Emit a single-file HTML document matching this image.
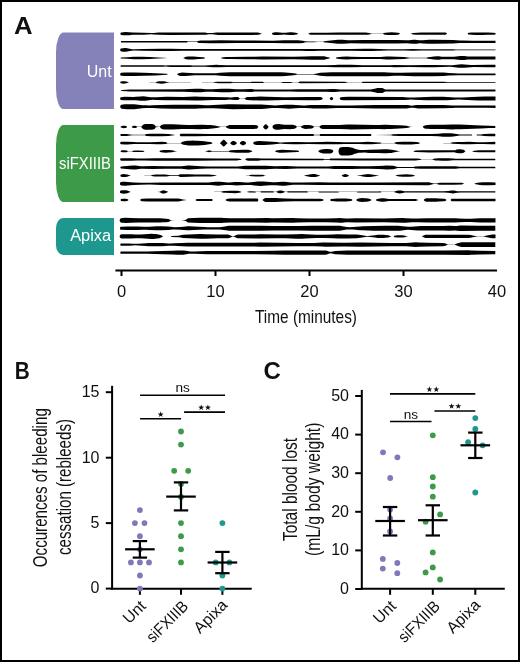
<!DOCTYPE html>
<html><head><meta charset="utf-8"><style>
html,body{margin:0;padding:0;background:#fff;}
svg{display:block;will-change:transform;}
text{font-family:"Liberation Sans",sans-serif;}
</style></head><body>
<svg width="520" height="662" viewBox="0 0 520 662">
<rect x="0" y="0" width="520" height="662" fill="#fff"/>

<rect x="1" y="1" width="518" height="660" fill="none" stroke="#000" stroke-width="2"/>
<text transform="translate(13.9,34) scale(1.073,1)" font-size="24" font-weight="bold" fill="#111">A</text>
<text transform="translate(14.65,378.6) scale(0.865,1)" font-size="24" font-weight="bold" fill="#111">B</text>
<text x="263.4" y="378.5" font-size="24" font-weight="bold" fill="#111">C</text>
<path d="M63.50,32.50 H114.00 V109.00 H63.50 A7.50,20.00 0 0 1 56.00,89.00 V52.50 A7.50,20.00 0 0 1 63.50,32.50Z" fill="#8581b9"/>
<path d="M63.50,125.00 H114.00 V202.00 H63.50 A7.50,20.00 0 0 1 56.00,182.00 V145.00 A7.50,20.00 0 0 1 63.50,125.00Z" fill="#3d9a48"/>
<path d="M63.00,218.00 H114.00 V255.00 H63.00 A7.00,10.00 0 0 1 56.00,245.00 V228.00 A7.00,10.00 0 0 1 63.00,218.00Z" fill="#1e988e"/>
<text x="111.6" y="77.3" font-size="16" fill="#fff" text-anchor="end">Unt</text>
<text x="111" y="169.2" font-size="16" fill="#fff" text-anchor="end" textLength="52" lengthAdjust="spacingAndGlyphs">siFXIIIB</text>
<text x="111.2" y="240.7" font-size="16" fill="#fff" text-anchor="end" textLength="41" lengthAdjust="spacingAndGlyphs">Apixa</text>
<path fill="#000" d="M120.38,33.70 120.46,33.22 120.70,32.82 121.07,32.55 121.28,32.47 123.50,32.16 125.50,32.05 129.00,32.21 132.75,32.59 143.50,32.71 151.50,33.05 153.50,32.99 158.75,32.61 170.00,32.46 205.50,32.60 206.00,32.65 207.50,33.00 208.00,33.05 212.50,33.03 216.50,32.54 217.75,32.45 252.25,32.47 258.25,32.62 258.75,32.73 260.25,33.24 262.25,33.65 262.25,33.75 260.25,34.16 258.75,34.67 258.25,34.78 252.25,34.93 217.75,34.95 216.50,34.86 212.50,34.37 208.00,34.35 207.50,34.40 206.00,34.75 205.50,34.80 170.00,34.94 158.75,34.79 153.50,34.41 151.50,34.35 143.50,34.69 132.75,34.81 129.00,35.19 125.50,35.35 123.50,35.24 121.28,34.93 121.07,34.85 120.70,34.58 120.46,34.18 120.38,33.70ZM272.00,33.48 272.25,33.09 272.75,32.81 274.00,32.45 275.00,32.32 277.25,32.35 282.00,32.72 284.25,32.80 285.75,32.75 290.00,32.37 291.75,32.30 293.75,32.42 296.00,32.78 296.75,32.95 297.75,33.52 298.25,33.64 298.25,33.76 297.75,33.88 296.75,34.45 296.00,34.62 293.75,34.98 291.75,35.10 290.25,35.05 286.00,34.67 284.25,34.60 282.00,34.68 277.25,35.05 275.00,35.08 274.00,34.95 272.75,34.59 272.25,34.31 272.00,33.92ZM308.25,33.65 309.50,32.95 310.25,32.78 311.00,32.70 326.50,32.70 337.75,32.60 365.75,32.60 367.25,32.70 369.25,32.95 371.00,33.48 371.75,33.60 383.00,33.60 383.25,33.51 383.75,33.08 384.00,32.95 385.25,32.74 388.25,32.42 391.75,32.30 395.00,32.41 398.00,32.70 398.50,32.85 400.25,33.66 400.25,33.74 398.50,34.55 398.00,34.70 395.00,34.99 391.75,35.10 388.25,34.98 385.25,34.66 384.00,34.45 383.75,34.32 383.25,33.89 383.00,33.80 371.75,33.80 371.00,33.92 369.25,34.45 367.25,34.70 365.75,34.80 337.75,34.80 326.50,34.70 311.00,34.70 310.25,34.62 309.50,34.45 308.25,33.75ZM411.00,33.63 412.50,33.05 413.00,32.95 417.25,32.69 421.50,32.60 445.50,32.60 446.00,32.79 447.00,33.57 447.00,33.83 446.00,34.61 445.50,34.80 421.50,34.80 417.25,34.71 413.00,34.45 412.50,34.35 411.00,33.77ZM467.75,33.49 468.25,32.93 468.50,32.80 471.75,32.61 475.50,32.49 481.75,32.45 487.75,32.54 493.25,32.71 495.50,32.95 495.50,34.45 493.25,34.69 487.75,34.86 481.75,34.95 475.50,34.91 471.75,34.79 468.50,34.60 468.25,34.47 467.75,33.91ZM120.83,41.80 120.88,41.51 121.02,41.27 121.24,41.11 121.50,41.05 183.00,41.10 186.75,41.05 187.00,41.11 187.75,41.54 188.00,41.60 196.75,41.60 197.00,41.53 197.75,41.00 198.00,40.90 199.25,40.72 200.75,40.59 209.75,40.38 220.00,40.30 237.25,40.54 273.00,40.65 284.25,40.31 298.25,40.30 300.25,40.40 303.00,40.70 304.75,41.17 305.50,41.30 308.25,41.39 313.50,41.41 317.75,41.70 323.00,41.70 323.50,41.59 324.50,41.20 326.00,40.99 335.50,40.04 338.00,39.87 340.25,39.80 342.50,39.85 348.00,40.22 350.50,40.30 363.00,40.05 397.25,40.05 407.00,40.30 409.00,40.22 413.50,39.87 415.50,39.80 416.75,39.88 419.50,40.25 420.75,40.30 423.00,40.22 429.00,39.83 433.50,39.81 453.00,40.05 460.00,40.49 463.00,40.57 472.50,40.65 495.50,40.65 495.50,42.95 472.50,42.95 463.00,43.03 460.00,43.11 453.00,43.55 433.50,43.79 429.00,43.77 423.00,43.38 420.75,43.30 419.50,43.35 416.75,43.72 415.50,43.80 413.50,43.73 409.00,43.38 407.00,43.30 397.25,43.55 363.00,43.55 350.50,43.30 348.00,43.38 342.50,43.75 340.25,43.80 338.00,43.73 335.50,43.56 326.00,42.61 324.50,42.40 323.50,42.01 323.00,41.90 317.75,41.90 313.50,42.19 308.25,42.21 305.50,42.30 304.75,42.43 303.00,42.90 300.25,43.20 298.25,43.30 284.25,43.29 273.00,42.95 237.25,43.06 220.00,43.30 209.75,43.22 200.75,43.01 199.25,42.88 198.00,42.70 197.75,42.60 197.00,42.07 196.75,42.00 188.00,42.00 187.75,42.06 187.00,42.49 186.75,42.55 183.00,42.50 121.50,42.55 121.24,42.49 121.02,42.33 120.88,42.09 120.83,41.80ZM120.15,49.90 120.25,49.33 120.38,49.07 120.55,48.84 120.98,48.51 123.00,48.13 124.75,48.00 125.75,48.03 127.25,48.18 129.75,48.86 132.00,49.16 133.50,49.25 143.00,49.00 160.50,48.80 170.50,48.86 182.75,49.05 300.50,49.10 307.25,48.91 313.00,48.90 319.75,49.10 350.50,49.10 365.50,48.80 371.50,48.87 387.75,49.22 394.75,49.28 404.00,49.29 413.00,49.00 421.50,49.25 453.00,49.25 456.00,49.45 495.50,49.45 495.50,50.35 456.00,50.35 453.00,50.55 421.50,50.55 413.00,50.80 404.00,50.51 394.75,50.52 387.75,50.58 371.50,50.93 365.50,51.00 350.50,50.70 319.75,50.70 313.00,50.90 307.25,50.89 300.50,50.70 182.75,50.75 170.50,50.94 160.50,51.00 143.00,50.80 133.50,50.55 132.00,50.64 129.75,50.94 127.25,51.62 125.75,51.77 124.75,51.80 123.00,51.67 120.98,51.29 120.75,51.15 120.38,50.73 120.25,50.47 120.15,49.90ZM120.66,58.00 120.70,57.77 120.82,57.58 120.99,57.45 121.20,57.40 127.20,57.31 133.95,56.84 136.70,56.75 142.20,56.81 149.70,57.02 158.20,57.47 163.70,57.63 167.20,57.95 167.20,58.05 163.70,58.37 158.20,58.53 149.70,58.98 142.20,59.19 136.70,59.25 133.95,59.16 127.20,58.69 121.20,58.60 120.99,58.55 120.82,58.42 120.70,58.23 120.66,58.00ZM178.45,57.96 178.95,57.90 183.20,57.88 183.70,57.73 185.45,56.92 185.95,56.76 188.20,56.50 190.45,56.40 193.45,56.51 198.95,56.98 203.20,57.26 204.45,57.46 205.20,57.92 205.20,58.08 204.45,58.54 203.20,58.74 198.95,59.02 193.45,59.49 190.45,59.60 188.20,59.50 185.95,59.24 185.45,59.08 183.70,58.27 183.20,58.12 178.95,58.10 178.45,58.04ZM220.95,57.89 221.95,57.41 223.45,57.16 225.95,57.03 229.95,56.93 246.45,56.84 262.45,56.50 293.20,56.74 304.45,56.50 311.70,56.26 322.95,56.25 324.20,56.37 326.70,56.90 329.20,57.59 330.20,57.96 330.20,58.04 329.20,58.41 326.70,59.10 324.20,59.63 322.95,59.75 311.70,59.74 304.45,59.50 293.20,59.26 262.45,59.50 246.45,59.16 229.95,59.07 225.95,58.97 223.45,58.84 221.95,58.59 220.95,58.11ZM335.70,57.95 336.45,57.38 336.70,57.26 337.45,57.16 341.70,56.77 346.70,56.61 350.95,56.64 361.70,56.99 377.95,57.00 380.45,56.92 386.45,56.53 390.45,56.52 396.45,56.69 404.20,57.07 407.95,57.39 409.70,57.72 410.45,57.80 425.45,57.80 426.20,57.72 427.95,57.26 430.45,56.90 433.70,56.55 437.70,56.25 438.95,56.30 441.70,56.67 442.95,56.75 453.95,56.73 455.95,56.59 460.70,56.10 462.95,56.00 464.45,56.07 467.70,56.38 473.20,56.59 485.70,56.58 495.45,56.50 495.45,59.50 485.70,59.42 473.20,59.41 467.70,59.62 464.45,59.93 462.95,60.00 460.70,59.90 455.95,59.41 453.95,59.27 442.95,59.25 441.70,59.33 438.95,59.70 437.70,59.75 433.70,59.45 430.45,59.10 427.95,58.74 426.20,58.28 425.45,58.20 410.45,58.20 409.70,58.28 407.95,58.61 404.20,58.93 396.45,59.31 390.45,59.48 386.45,59.47 380.45,59.08 377.95,59.00 361.70,59.01 350.95,59.36 346.70,59.39 341.70,59.23 337.45,58.84 336.70,58.74 336.45,58.62 335.70,58.05ZM120.53,66.10 120.58,65.81 120.72,65.57 120.94,65.41 121.20,65.35 162.95,65.35 165.45,65.60 167.95,65.35 171.20,65.29 178.95,65.21 189.95,65.20 192.95,65.50 201.95,65.50 204.95,65.42 212.95,64.95 216.45,64.85 218.95,64.89 226.70,65.20 296.20,65.30 326.20,65.30 335.20,64.91 337.95,64.85 351.70,64.86 362.95,65.20 390.20,65.20 394.20,64.95 409.70,65.20 425.20,64.95 433.95,65.04 449.95,65.35 452.45,65.24 458.70,64.52 461.70,64.35 464.45,64.44 470.95,64.97 473.70,65.10 487.95,64.86 495.45,64.85 495.45,67.35 487.95,67.34 473.70,67.10 470.95,67.23 464.45,67.76 461.70,67.85 458.70,67.68 452.45,66.96 449.95,66.85 433.95,67.16 425.20,67.25 409.70,67.00 394.20,67.25 390.20,67.00 362.95,67.00 351.70,67.34 337.95,67.35 335.20,67.29 326.20,66.90 296.20,66.90 226.70,67.00 218.95,67.31 216.45,67.35 212.95,67.25 204.95,66.78 201.95,66.70 192.95,66.70 189.95,67.00 178.95,66.99 171.20,66.91 167.95,66.85 165.45,66.60 162.95,66.85 121.20,66.85 120.94,66.79 120.72,66.63 120.58,66.39 120.53,66.10ZM120.15,74.30 120.18,74.01 120.38,73.47 120.75,73.05 121.24,72.83 125.00,72.62 128.00,72.55 134.00,72.61 144.00,72.82 155.75,73.21 166.25,73.75 167.00,73.87 167.75,74.25 167.75,74.35 167.00,74.73 166.25,74.85 155.75,75.39 144.00,75.78 134.00,75.99 128.00,76.05 125.00,75.98 121.24,75.77 120.75,75.55 120.38,75.13 120.18,74.59 120.15,74.30ZM177.25,74.21 178.00,73.55 178.75,73.19 179.50,72.91 180.75,72.70 182.50,72.56 185.50,72.64 194.75,73.29 214.25,73.30 216.00,73.23 220.00,72.84 225.00,72.50 230.25,72.30 281.25,72.33 285.50,72.54 291.25,72.98 295.50,73.55 297.25,74.01 298.00,74.10 313.25,74.09 316.00,73.72 319.00,73.03 320.25,72.82 326.25,72.43 331.50,72.30 384.50,72.30 387.50,72.39 394.00,72.74 396.75,72.80 401.00,72.75 414.00,72.41 432.75,72.45 443.50,72.56 448.75,73.04 459.00,73.38 495.50,73.40 495.50,75.20 459.00,75.22 448.75,75.56 443.50,76.04 432.75,76.15 414.00,76.19 401.00,75.85 396.75,75.80 394.00,75.86 387.50,76.21 384.50,76.30 331.50,76.30 326.25,76.17 320.25,75.78 319.00,75.57 316.00,74.88 313.25,74.51 298.00,74.50 297.25,74.59 295.50,75.05 291.25,75.62 285.50,76.06 281.25,76.27 230.25,76.30 225.00,76.10 220.00,75.76 216.00,75.37 214.25,75.30 194.75,75.31 185.50,75.96 182.50,76.04 180.75,75.90 179.50,75.69 178.75,75.41 178.00,75.05 177.25,74.39ZM120.30,82.40 120.45,81.84 120.86,81.48 122.20,81.24 123.45,81.15 124.70,81.22 126.20,81.44 127.95,81.98 128.70,82.34 128.70,82.46 127.95,82.82 126.20,83.36 124.70,83.58 123.45,83.65 122.20,83.56 120.86,83.32 120.45,82.96 120.30,82.40ZM149.45,82.35 155.45,82.25 155.95,82.13 156.95,81.66 157.45,81.57 159.70,81.26 161.70,81.15 163.70,81.31 165.20,81.53 167.20,81.97 169.70,82.24 190.70,82.34 190.70,82.46 169.70,82.56 167.20,82.83 165.20,83.27 163.70,83.49 161.70,83.65 159.70,83.54 157.45,83.23 156.95,83.14 155.95,82.67 155.45,82.55 149.45,82.45ZM201.95,82.22 213.20,82.20 214.45,82.09 216.95,81.71 218.20,81.65 230.45,81.65 232.95,82.00 250.45,82.00 251.70,81.85 262.95,81.85 263.20,81.89 263.95,82.20 264.20,82.20 280.95,82.20 282.95,81.90 290.45,81.90 292.95,82.20 297.95,82.20 298.70,82.07 299.95,81.59 300.70,81.50 343.45,81.79 344.95,81.84 346.95,82.13 347.95,82.20 361.70,82.20 361.95,82.17 362.70,81.86 363.20,81.80 432.45,81.83 443.20,81.85 447.95,82.00 495.45,82.00 495.45,82.80 447.95,82.80 443.20,82.95 432.45,82.97 363.20,83.00 362.70,82.94 361.95,82.63 361.70,82.60 347.95,82.60 346.95,82.67 344.95,82.96 343.45,83.01 300.70,83.30 299.95,83.21 298.70,82.73 297.95,82.60 292.95,82.60 290.45,82.90 282.95,82.90 280.95,82.60 264.20,82.60 263.95,82.60 263.20,82.91 262.95,82.95 251.70,82.95 250.45,82.80 232.95,82.80 230.45,83.15 218.20,83.15 216.95,83.09 214.45,82.71 213.20,82.60 201.95,82.58ZM120.84,90.50 120.90,90.28 121.06,90.13 121.95,90.00 126.20,89.67 129.95,89.51 144.45,89.39 183.45,89.25 195.20,88.82 198.95,88.75 200.95,88.80 205.70,89.16 207.95,89.25 212.20,89.19 221.70,88.84 225.95,88.75 229.20,88.80 235.95,89.16 238.70,89.25 243.95,89.20 250.70,89.00 251.95,89.10 254.45,89.44 255.45,89.50 290.70,89.50 297.70,89.25 325.95,89.25 331.70,89.00 334.70,89.07 340.70,89.40 343.45,89.49 369.45,89.50 370.70,89.41 371.95,89.22 375.70,88.46 377.20,88.09 377.95,88.00 381.70,88.00 382.20,88.06 382.95,88.36 384.70,89.32 385.45,89.50 495.45,89.50 495.45,91.50 385.45,91.50 384.70,91.68 382.95,92.64 382.20,92.94 381.70,93.00 377.95,93.00 377.20,92.91 375.70,92.54 371.95,91.78 370.70,91.59 369.45,91.50 343.45,91.51 340.70,91.60 334.70,91.93 331.70,92.00 325.95,91.75 297.70,91.75 290.70,91.50 255.45,91.50 254.45,91.56 251.95,91.90 250.70,92.00 243.95,91.80 238.70,91.75 235.95,91.84 229.20,92.20 225.95,92.25 221.70,92.16 212.20,91.81 207.95,91.75 205.70,91.84 200.95,92.20 198.95,92.25 195.20,92.18 183.45,91.75 144.45,91.61 129.95,91.49 126.20,91.33 121.95,91.00 121.06,90.87 120.90,90.72 120.84,90.50ZM120.15,98.60 120.18,98.31 120.38,97.77 120.75,97.35 120.98,97.21 121.24,97.13 123.00,96.92 124.50,96.85 133.75,96.94 135.75,96.84 140.75,96.43 143.00,96.35 145.25,96.48 150.50,97.19 152.75,97.35 156.50,97.28 166.50,96.86 183.75,97.00 195.25,96.60 200.25,96.66 213.25,97.08 225.50,97.31 227.25,97.37 230.25,97.60 231.50,97.55 235.00,97.11 238.00,97.10 238.25,97.19 239.25,98.10 240.00,98.41 240.50,98.50 244.25,98.50 244.50,98.45 246.50,97.24 247.00,97.10 250.50,97.05 259.50,96.61 266.25,96.68 284.75,97.20 309.00,97.01 316.75,97.02 320.50,97.10 321.00,97.18 322.00,97.60 322.75,98.47 322.75,98.73 322.00,99.60 321.00,100.02 320.50,100.10 316.75,100.18 309.00,100.19 284.75,100.00 266.25,100.52 259.50,100.59 250.50,100.15 247.00,100.10 246.50,99.96 244.50,98.75 244.25,98.70 240.50,98.70 240.00,98.79 239.25,99.10 238.25,100.01 238.00,100.10 235.00,100.09 231.50,99.65 230.25,99.60 227.25,99.83 225.50,99.89 213.25,100.12 200.25,100.54 195.25,100.60 183.75,100.20 166.50,100.34 156.50,99.92 152.75,99.85 150.50,100.01 145.25,100.72 143.00,100.85 140.75,100.77 135.75,100.36 133.75,100.26 124.50,100.35 123.00,100.28 121.24,100.07 120.98,99.99 120.75,99.85 120.38,99.43 120.18,98.89 120.15,98.60ZM329.75,98.52 330.25,97.75 330.50,97.52 331.00,97.09 331.25,96.95 331.50,96.90 331.75,96.95 332.00,97.09 332.50,97.52 332.75,97.75 333.25,98.52 333.25,98.68 332.75,99.45 332.50,99.68 332.00,100.11 331.75,100.25 331.50,100.30 331.25,100.25 331.00,100.11 330.50,99.68 330.25,99.45 329.75,98.68ZM339.75,98.42 340.25,97.59 340.50,97.35 341.25,97.18 343.00,97.00 348.25,96.86 403.00,97.10 404.75,97.18 408.75,97.53 410.50,97.60 413.75,97.52 420.75,97.13 425.75,97.00 434.00,96.86 443.25,96.85 446.75,96.97 454.75,97.51 458.25,97.60 462.75,97.47 472.50,96.91 477.75,96.75 485.00,96.61 495.50,96.60 495.50,100.60 485.00,100.59 477.75,100.45 472.50,100.29 462.75,99.73 458.25,99.60 454.75,99.69 446.75,100.23 443.25,100.35 434.00,100.34 425.75,100.20 420.75,100.07 413.75,99.68 410.50,99.60 408.75,99.67 404.75,100.02 403.00,100.10 348.25,100.34 343.00,100.20 341.25,100.02 340.50,99.85 340.25,99.61 339.75,98.78ZM120.20,106.70 120.34,105.93 120.50,105.59 121.00,105.04 121.31,104.85 121.65,104.74 124.50,104.35 126.75,104.20 134.25,104.24 136.25,104.41 142.25,105.15 146.25,105.37 149.00,105.45 152.75,105.37 161.25,104.96 173.25,104.70 195.75,104.70 198.50,104.79 205.50,105.15 209.25,105.19 213.25,105.06 228.50,104.31 233.00,104.20 246.50,104.44 261.75,104.47 264.75,104.65 272.00,105.31 275.25,105.45 278.25,105.37 285.75,104.82 289.25,104.70 292.25,104.79 299.50,105.33 302.75,105.45 305.00,105.40 310.50,105.03 312.75,104.95 326.25,104.96 336.75,105.44 350.50,105.45 375.75,104.96 406.75,104.95 407.75,105.03 410.50,105.58 411.75,105.70 413.00,105.62 416.50,105.06 418.00,104.95 443.50,105.11 452.25,105.52 455.00,105.60 486.75,105.60 495.50,105.45 495.50,107.95 486.75,107.80 455.00,107.80 452.25,107.88 443.50,108.29 418.00,108.45 416.75,108.37 413.25,107.81 411.75,107.70 410.75,107.78 408.00,108.33 406.75,108.45 375.75,108.44 350.50,107.95 336.75,107.96 326.25,108.44 312.75,108.45 310.50,108.37 305.00,108.00 302.75,107.95 299.50,108.07 292.25,108.61 289.25,108.70 285.75,108.58 278.25,108.03 275.25,107.95 272.00,108.09 264.75,108.75 261.75,108.93 246.50,108.96 233.00,109.20 228.50,109.09 213.25,108.34 209.25,108.21 205.50,108.25 198.50,108.61 195.75,108.70 173.25,108.70 161.25,108.44 152.75,108.03 149.00,107.95 146.25,108.03 142.25,108.25 136.25,108.99 134.25,109.16 126.75,109.20 124.50,109.05 121.65,108.66 121.31,108.55 121.00,108.36 120.50,107.81 120.34,107.47 120.20,106.70ZM120.62,126.90 120.74,126.48 121.04,126.21 122.55,125.77 123.55,125.65 124.80,125.71 126.05,125.92 126.30,126.11 126.80,126.67 127.05,126.82 127.05,126.98 126.80,127.13 126.30,127.69 126.05,127.88 124.80,128.09 123.55,128.15 122.55,128.03 121.04,127.59 120.74,127.32 120.62,126.90ZM131.80,126.61 132.05,126.38 133.05,126.01 133.80,125.85 134.55,125.80 135.30,125.87 136.30,126.13 137.05,126.43 137.30,126.68 137.55,126.80 141.05,126.80 141.30,126.66 141.55,126.42 142.30,125.51 143.05,124.81 143.55,124.53 144.30,124.26 145.30,124.09 146.30,124.00 151.05,124.00 151.80,124.05 153.05,124.26 154.05,124.61 154.55,124.91 154.80,125.16 155.30,125.80 155.55,126.24 155.80,126.50 158.55,126.69 159.80,126.70 160.05,126.56 161.05,125.35 161.55,124.94 162.05,124.69 162.80,124.48 165.05,124.26 170.55,124.25 172.80,124.30 182.05,124.72 188.05,124.88 191.55,124.88 200.05,124.65 203.30,124.70 207.55,124.88 210.30,125.08 214.55,125.60 218.05,126.17 220.55,126.70 225.55,126.70 226.05,126.51 226.80,126.00 228.30,125.39 229.30,125.07 230.30,124.91 253.55,124.92 256.80,125.16 257.05,125.30 257.30,125.55 258.05,126.54 258.30,126.78 258.30,127.02 258.05,127.26 257.30,128.25 257.05,128.50 256.80,128.64 253.55,128.88 230.30,128.89 229.30,128.73 228.30,128.41 226.80,127.80 226.05,127.29 225.55,127.10 220.55,127.10 218.05,127.63 214.55,128.20 210.30,128.72 207.55,128.92 203.30,129.10 200.05,129.15 191.55,128.92 188.05,128.92 182.05,129.08 172.80,129.50 170.55,129.55 165.05,129.54 162.80,129.32 162.05,129.11 161.55,128.86 161.05,128.45 160.05,127.24 159.80,127.10 158.55,127.11 155.80,127.30 155.55,127.56 155.30,128.00 154.80,128.64 154.55,128.89 154.05,129.19 153.05,129.54 151.80,129.75 151.05,129.80 146.30,129.80 145.30,129.71 144.30,129.54 143.55,129.27 143.05,128.99 142.30,128.29 141.55,127.38 141.30,127.14 141.05,127.00 137.55,127.00 137.30,127.12 137.05,127.37 136.30,127.67 135.30,127.93 134.55,128.00 133.80,127.95 133.05,127.79 132.05,127.42 131.80,127.19ZM263.05,126.84 264.05,125.40 265.05,124.50 265.55,124.24 265.80,124.20 266.05,124.24 266.55,124.50 267.55,125.40 268.55,126.84 268.55,126.96 267.55,128.40 266.55,129.30 266.05,129.56 265.80,129.60 265.55,129.56 265.05,129.30 264.05,128.40 263.05,126.96ZM272.55,126.50 272.80,125.82 273.30,125.25 273.80,124.90 275.05,124.35 275.55,124.21 276.05,124.15 279.05,124.10 280.30,124.19 284.55,124.73 290.55,124.65 291.55,124.69 292.80,124.83 294.55,125.16 295.30,125.44 296.05,125.87 296.80,126.71 297.05,126.80 300.55,126.80 301.05,126.58 301.80,126.00 302.80,125.57 304.30,125.06 305.30,124.91 308.80,125.02 312.05,125.41 313.05,125.93 313.80,126.52 314.05,126.66 314.30,126.70 319.05,126.70 319.30,126.70 319.55,126.57 320.30,125.79 320.55,125.63 321.80,125.11 322.80,124.91 339.05,124.89 347.55,124.47 350.55,124.40 376.05,124.89 379.30,124.88 384.55,124.66 386.80,124.68 390.55,124.90 399.55,125.21 403.55,125.44 406.55,125.85 409.30,126.41 410.30,126.77 411.55,126.87 411.55,126.93 410.30,127.03 409.30,127.39 406.55,127.95 403.55,128.36 399.55,128.59 390.55,128.90 386.80,129.12 384.55,129.14 379.30,128.92 376.05,128.91 350.55,129.40 347.55,129.33 339.05,128.91 322.80,128.89 321.80,128.69 320.55,128.17 320.30,128.01 319.55,127.23 319.30,127.10 319.05,127.10 314.30,127.10 314.05,127.14 313.80,127.28 313.05,127.87 312.05,128.39 308.80,128.78 305.30,128.89 304.30,128.74 302.80,128.23 301.80,127.80 301.05,127.22 300.55,127.00 297.05,127.00 296.80,127.09 296.05,127.93 295.30,128.36 294.55,128.64 292.80,128.97 291.55,129.11 290.55,129.15 284.55,129.07 280.30,129.61 279.05,129.70 276.05,129.65 275.55,129.59 275.05,129.45 273.80,128.90 273.30,128.55 272.80,127.98 272.55,127.30ZM422.80,126.73 423.55,125.97 424.05,125.63 425.80,125.16 427.30,124.94 431.05,124.85 443.30,124.74 452.30,124.40 455.55,124.43 459.55,124.54 481.05,125.42 489.55,125.83 495.30,125.90 495.30,127.90 489.55,127.97 481.05,128.38 459.55,129.26 455.55,129.37 452.30,129.40 443.30,129.06 431.05,128.95 427.30,128.86 425.80,128.64 424.05,128.17 423.55,127.83 422.80,127.07ZM120.40,135.00 120.47,134.62 120.66,134.29 120.96,134.08 121.30,134.00 125.55,134.00 126.80,134.05 130.05,134.41 132.80,134.80 144.30,134.80 144.80,134.71 146.30,134.09 146.80,134.00 150.80,133.82 155.30,133.75 161.80,133.82 168.55,134.03 172.05,134.38 175.55,134.91 175.55,135.09 172.05,135.62 168.55,135.97 161.80,136.18 155.30,136.25 150.80,136.18 146.80,136.00 146.30,135.91 144.80,135.29 144.30,135.20 132.80,135.20 130.05,135.59 126.80,135.95 125.55,136.00 121.30,136.00 120.96,135.92 120.66,135.71 120.47,135.38 120.40,135.00ZM179.80,134.73 180.30,133.88 180.55,133.75 195.55,133.80 209.55,133.95 312.80,133.90 313.05,133.90 313.30,134.03 314.05,134.74 314.30,134.80 319.30,134.80 319.55,134.69 320.30,134.06 320.55,134.00 323.05,133.94 370.30,133.90 370.55,133.91 370.80,134.06 371.55,134.92 371.55,135.08 370.80,135.94 370.55,136.09 370.30,136.10 323.05,136.06 320.55,136.00 320.30,135.94 319.55,135.31 319.30,135.20 314.30,135.20 314.05,135.26 313.30,135.97 313.05,136.10 312.80,136.10 209.55,136.05 195.55,136.20 180.55,136.25 180.30,136.12 179.80,135.27ZM374.55,134.97 390.55,134.80 391.05,134.73 392.80,134.27 399.30,134.03 431.05,133.96 438.30,133.64 440.55,133.50 443.05,133.25 450.30,133.29 453.30,133.58 460.05,134.58 471.80,134.61 472.30,134.93 472.30,135.07 471.80,135.39 460.05,135.42 453.30,136.42 450.30,136.71 443.05,136.75 440.55,136.50 438.30,136.36 431.05,136.04 399.30,135.97 392.80,135.73 391.05,135.27 390.55,135.20 374.55,135.03ZM476.30,134.92 476.80,134.66 477.05,134.59 480.55,134.40 484.05,134.01 489.80,133.82 495.30,133.75 495.30,136.25 489.80,136.18 484.05,135.99 480.55,135.60 477.05,135.41 476.80,135.34 476.30,135.08ZM120.17,143.10 120.26,142.62 120.50,142.22 120.87,141.95 121.08,141.87 125.05,141.70 127.55,141.76 133.80,142.12 136.55,142.20 149.80,142.20 157.55,141.88 161.30,141.87 165.55,142.11 166.05,142.26 167.55,142.91 168.05,143.00 180.55,143.00 181.05,142.79 181.80,142.23 182.55,141.78 182.80,141.66 183.55,141.49 185.80,141.11 188.30,140.82 190.55,140.66 193.05,140.60 195.30,140.65 197.80,140.80 204.55,141.32 207.55,141.63 210.55,142.11 211.05,142.29 212.55,143.03 212.55,143.17 211.05,143.91 210.55,144.09 207.55,144.57 204.55,144.88 197.80,145.40 195.30,145.55 193.05,145.60 190.55,145.54 188.30,145.38 185.80,145.09 183.55,144.71 182.80,144.54 182.55,144.42 181.80,143.97 181.05,143.41 180.55,143.20 168.05,143.20 167.55,143.29 166.05,143.94 165.55,144.09 161.30,144.33 157.55,144.32 149.80,144.00 136.55,144.00 133.80,144.08 127.55,144.44 125.05,144.50 121.08,144.33 120.87,144.25 120.50,143.98 120.26,143.58 120.17,143.10ZM220.05,142.96 220.55,142.56 223.05,140.06 223.55,139.75 223.80,139.70 224.05,139.75 224.55,140.09 226.80,142.42 227.55,143.01 227.55,143.19 226.80,143.78 224.55,146.11 224.05,146.45 223.80,146.50 223.55,146.45 223.05,146.14 220.55,143.64 220.05,143.24ZM230.30,142.99 230.80,142.22 231.05,141.97 231.55,141.63 232.55,141.10 233.05,140.95 233.55,140.90 234.05,140.97 234.55,141.14 235.55,141.69 236.05,142.04 236.80,143.07 236.80,143.13 236.05,144.16 235.55,144.51 234.55,145.06 234.05,145.23 233.55,145.30 233.05,145.25 232.55,145.10 231.55,144.57 231.05,144.23 230.80,143.98 230.30,143.21ZM239.80,142.99 240.30,142.22 240.55,141.97 241.05,141.63 242.05,141.10 242.55,140.95 243.05,140.90 243.55,140.97 244.05,141.13 245.05,141.68 245.55,142.04 246.05,142.88 246.05,143.32 245.55,144.16 245.05,144.52 244.05,145.07 243.55,145.23 243.05,145.30 242.55,145.25 242.05,145.10 241.05,144.57 240.55,144.23 240.30,143.98 239.80,143.21ZM253.30,142.85 253.80,142.02 254.05,141.83 254.30,141.76 255.55,141.45 256.80,141.25 259.30,141.10 264.05,141.23 272.30,141.72 276.80,142.11 279.30,142.51 280.30,142.60 281.80,142.54 285.30,142.21 293.80,142.01 297.55,142.01 308.30,142.20 321.55,141.89 326.55,141.85 338.05,142.00 343.80,142.20 356.80,142.20 359.30,142.14 364.80,141.88 367.05,141.85 371.55,141.98 379.05,142.41 380.05,142.51 381.30,142.84 381.80,142.90 394.05,142.90 394.55,142.83 395.55,142.34 397.55,142.03 402.55,141.78 407.05,141.70 411.55,141.81 416.55,142.12 417.80,142.29 419.05,142.55 419.30,142.62 419.80,143.02 419.80,143.18 419.30,143.58 419.05,143.65 417.80,143.91 416.55,144.08 411.55,144.39 407.05,144.50 402.55,144.42 397.55,144.17 395.55,143.86 394.55,143.37 394.05,143.30 381.80,143.30 381.30,143.36 380.05,143.69 379.05,143.79 371.55,144.22 367.05,144.35 364.80,144.32 359.30,144.06 356.80,144.00 343.80,144.00 338.05,144.20 326.55,144.35 321.55,144.31 308.30,144.00 297.55,144.19 293.80,144.19 285.30,143.99 281.80,143.66 280.30,143.60 279.30,143.69 276.80,144.09 272.30,144.48 264.05,144.97 259.30,145.10 256.80,144.95 255.55,144.75 254.30,144.44 254.05,144.37 253.80,144.18 253.30,143.35ZM443.30,143.04 449.30,142.99 450.05,142.90 452.80,142.37 458.05,142.08 463.05,141.91 469.30,141.86 477.55,142.15 480.55,142.20 483.55,142.15 490.80,141.88 495.30,141.85 495.30,144.35 490.80,144.32 483.55,144.05 480.55,144.00 477.55,144.05 469.30,144.34 463.05,144.29 458.05,144.12 452.80,143.83 450.05,143.30 449.30,143.21 443.30,143.16ZM120.62,151.30 120.74,150.88 121.04,150.61 122.55,150.36 123.55,150.30 126.80,150.41 127.05,150.53 127.80,151.15 128.05,151.20 131.80,151.20 132.05,151.13 132.80,150.74 133.05,150.70 135.30,150.59 138.05,150.55 143.05,150.70 143.55,150.83 144.55,151.23 144.55,151.37 143.55,151.77 143.05,151.90 138.05,152.05 135.30,152.01 133.05,151.90 132.80,151.86 132.05,151.47 131.80,151.40 128.05,151.40 127.80,151.45 127.05,152.07 126.80,152.19 123.55,152.30 122.55,152.24 121.04,151.99 120.74,151.72 120.62,151.30ZM159.30,151.23 160.30,150.62 161.05,150.43 163.30,150.04 165.55,149.90 168.55,150.00 172.05,150.31 174.05,150.85 175.30,151.11 177.30,151.26 177.30,151.34 175.30,151.49 174.05,151.75 172.05,152.29 168.55,152.60 165.55,152.70 163.30,152.56 161.05,152.17 160.30,151.98 159.30,151.37ZM204.55,151.25 206.30,151.05 208.30,150.52 209.30,150.40 210.05,150.48 212.05,150.99 212.80,151.09 228.05,151.10 228.55,151.01 230.05,150.39 230.55,150.30 236.55,149.92 242.80,149.80 248.55,149.84 249.30,150.00 251.05,150.57 252.55,151.23 252.55,151.37 251.05,152.03 249.30,152.60 248.55,152.76 242.80,152.80 236.55,152.68 230.55,152.30 230.05,152.21 228.55,151.59 228.05,151.50 212.80,151.51 212.05,151.61 210.05,152.12 209.30,152.20 208.30,152.08 206.30,151.55 204.55,151.35ZM275.30,151.15 275.80,150.66 276.05,150.54 277.30,150.25 279.55,149.91 282.05,149.80 297.55,150.51 298.05,150.56 298.30,150.65 299.30,151.27 299.30,151.33 298.30,151.95 298.05,152.04 297.55,152.09 282.05,152.80 279.55,152.69 277.30,152.35 276.05,152.06 275.80,151.94 275.30,151.45ZM318.30,151.18 319.05,150.52 319.80,150.10 320.55,149.78 321.55,149.48 323.05,149.20 326.30,149.00 328.05,149.03 330.05,149.15 331.30,149.40 332.30,149.80 332.55,150.02 333.30,151.12 333.30,151.48 332.55,152.58 332.30,152.80 331.30,153.20 330.05,153.45 328.05,153.57 326.30,153.60 323.05,153.40 321.55,153.12 320.55,152.82 319.80,152.50 319.05,152.08 318.30,151.42ZM338.55,150.84 338.80,149.55 339.30,148.43 339.55,148.10 340.30,147.53 340.80,147.30 341.55,147.16 343.05,147.02 344.55,147.00 348.30,147.12 350.80,147.45 352.55,147.85 354.80,148.73 357.05,149.44 358.55,149.74 360.30,149.97 364.55,149.99 369.30,149.70 378.30,149.54 384.30,149.31 386.80,149.32 389.55,149.48 391.55,149.67 393.30,149.98 398.30,151.06 400.05,151.26 400.05,151.34 398.30,151.54 393.30,152.62 391.55,152.93 389.55,153.12 386.80,153.28 384.30,153.29 378.30,153.06 369.30,152.90 364.55,152.61 360.30,152.63 358.55,152.86 357.05,153.16 354.80,153.87 352.55,154.75 350.80,155.15 348.30,155.48 344.55,155.60 343.05,155.58 341.55,155.44 340.80,155.30 340.30,155.07 339.55,154.50 339.30,154.17 338.80,153.05 338.55,151.76ZM413.55,151.21 414.80,150.72 415.55,150.55 422.55,150.26 429.55,150.20 454.30,150.30 455.05,150.17 456.80,149.58 458.80,149.37 460.55,149.30 461.80,149.41 463.55,149.82 464.05,150.12 465.05,151.00 465.30,151.14 465.80,151.25 465.80,151.35 465.30,151.46 465.05,151.60 464.05,152.48 463.55,152.78 461.80,153.19 460.55,153.30 458.80,153.23 456.80,153.02 455.05,152.43 454.30,152.30 429.55,152.40 422.55,152.34 415.55,152.05 414.80,151.88 413.55,151.39ZM472.30,151.23 473.05,150.89 474.30,150.67 478.80,150.34 495.30,150.30 495.30,152.30 478.80,152.26 474.30,151.93 473.05,151.71 472.30,151.37ZM120.17,159.40 120.26,158.92 120.50,158.52 120.87,158.25 121.30,158.15 131.05,158.16 136.80,158.40 144.55,158.39 155.05,158.15 195.30,158.15 217.30,158.39 236.80,158.40 238.05,158.48 239.80,158.76 240.55,158.91 241.55,159.31 241.55,159.49 240.55,159.89 239.80,160.04 238.05,160.32 236.80,160.40 217.30,160.41 195.30,160.65 155.05,160.65 144.55,160.41 136.80,160.40 131.05,160.64 121.30,160.65 120.87,160.55 120.50,160.28 120.26,159.88 120.17,159.40ZM245.30,159.31 246.30,158.49 247.30,158.22 248.05,158.15 258.05,158.15 261.05,158.50 322.30,158.64 323.05,158.65 324.05,158.98 324.30,159.00 329.30,159.00 329.55,158.93 330.30,158.54 330.55,158.50 358.05,158.41 415.55,158.40 417.30,158.48 419.30,158.71 420.55,158.91 421.30,159.20 421.80,159.30 431.80,159.30 432.80,159.14 434.55,158.58 435.30,158.42 438.55,158.24 442.05,158.15 447.80,158.17 453.30,158.57 455.30,158.65 495.30,158.65 495.30,160.15 455.30,160.15 453.30,160.23 447.80,160.63 442.05,160.65 438.55,160.56 435.30,160.38 434.55,160.22 432.80,159.66 431.80,159.50 421.80,159.50 421.30,159.60 420.55,159.89 419.30,160.09 417.30,160.32 415.55,160.40 358.05,160.39 330.55,160.30 330.30,160.26 329.55,159.87 329.30,159.80 324.30,159.80 324.05,159.82 323.05,160.15 322.30,160.16 261.05,160.30 258.05,160.65 248.05,160.65 247.30,160.58 246.30,160.31 245.30,159.49ZM120.40,167.50 120.47,167.12 120.66,166.79 121.12,166.52 129.55,165.67 133.05,165.50 135.55,165.62 140.80,166.16 143.05,166.25 152.80,166.00 165.05,166.25 181.30,166.13 183.80,166.06 187.80,165.58 189.55,165.50 200.80,166.22 208.30,166.43 214.05,166.50 236.05,166.49 238.05,166.40 245.30,165.85 248.05,165.75 266.05,165.75 275.05,166.25 285.80,166.00 297.80,166.40 309.55,166.49 325.80,166.50 328.30,166.44 334.55,166.09 337.55,166.00 351.30,166.00 361.55,166.24 368.80,166.20 378.30,165.99 383.80,165.64 386.05,165.60 393.30,165.77 394.30,165.96 396.80,166.73 397.80,166.89 404.80,167.01 413.05,167.05 413.55,166.99 415.05,166.56 415.55,166.50 420.80,166.32 426.80,166.25 453.30,166.25 455.30,166.34 459.80,166.69 461.55,166.75 495.30,166.75 495.30,168.25 461.55,168.25 459.80,168.31 455.30,168.66 453.30,168.75 426.80,168.75 420.80,168.68 415.55,168.50 415.05,168.44 413.55,168.01 413.05,167.95 404.80,167.99 397.80,168.11 396.80,168.27 394.30,169.04 393.30,169.23 386.05,169.40 383.80,169.36 378.30,169.01 368.80,168.80 361.55,168.76 351.30,169.00 337.55,169.00 334.55,168.91 328.30,168.56 325.80,168.50 309.55,168.51 297.80,168.60 285.80,169.00 275.05,168.75 266.05,169.25 248.05,169.25 245.30,169.15 238.05,168.60 236.05,168.51 214.05,168.50 208.30,168.57 200.80,168.78 189.55,169.50 187.80,169.42 183.80,168.94 181.30,168.87 165.05,168.75 152.80,169.00 143.05,168.75 140.80,168.84 135.55,169.38 133.05,169.50 129.55,169.33 121.12,168.48 120.66,168.21 120.47,167.88 120.40,167.50ZM120.38,175.60 120.40,175.36 120.56,174.91 120.70,174.72 121.07,174.45 122.50,174.18 123.50,174.10 125.25,174.17 127.25,174.40 129.00,175.12 130.50,175.55 130.50,175.65 129.00,176.08 127.25,176.80 125.25,177.03 123.50,177.10 122.50,177.02 121.07,176.75 120.70,176.48 120.56,176.29 120.40,175.84 120.38,175.60ZM144.25,175.50 150.75,175.38 153.00,174.85 154.50,174.66 155.50,174.60 165.75,174.60 166.75,174.69 169.00,175.07 170.25,175.20 178.00,175.20 178.25,175.15 179.25,174.60 180.25,174.30 181.00,174.20 189.25,174.36 195.00,174.60 209.00,174.62 211.25,174.77 214.25,175.10 216.50,175.57 216.50,175.63 214.25,176.10 211.25,176.43 209.00,176.58 195.00,176.60 189.25,176.84 181.00,177.00 180.25,176.90 179.25,176.60 178.25,176.05 178.00,176.00 170.25,176.00 169.25,176.09 166.75,176.51 165.75,176.60 155.50,176.60 154.50,176.54 153.00,176.35 150.75,175.82 144.25,175.70ZM246.00,175.57 248.50,175.46 251.50,174.87 256.75,174.70 260.00,174.74 263.00,174.85 263.50,174.96 264.75,175.46 265.75,175.56 265.75,175.64 264.75,175.74 263.50,176.24 263.00,176.35 260.00,176.46 256.75,176.50 251.50,176.33 248.50,175.74 246.00,175.63ZM304.25,175.56 308.00,174.70 311.00,174.23 313.00,174.10 315.00,174.10 315.75,174.18 318.25,174.93 320.00,175.54 320.00,175.66 318.25,176.27 315.75,177.02 315.00,177.10 313.00,177.10 311.00,176.97 308.00,176.50 304.25,175.64ZM341.75,175.43 342.00,175.20 343.50,174.48 344.50,174.18 345.25,174.10 346.00,174.17 347.00,174.44 348.25,175.01 348.75,175.36 348.75,175.84 348.25,176.19 347.00,176.76 346.00,177.03 345.25,177.10 344.50,177.02 343.50,176.72 342.00,176.00 341.75,175.77ZM357.25,175.56 360.50,175.20 362.75,174.64 364.50,174.38 366.50,174.16 368.00,174.10 369.75,174.19 372.00,174.46 373.50,174.68 376.50,175.28 378.50,175.56 378.50,175.64 376.50,175.92 373.50,176.52 372.00,176.74 369.75,177.01 368.00,177.10 366.50,177.04 364.50,176.82 362.75,176.56 360.50,176.00 357.25,175.64ZM395.75,175.55 396.25,175.30 396.75,175.14 398.00,174.86 399.25,174.67 402.75,174.45 406.25,174.35 409.25,174.41 412.25,174.63 413.50,174.93 414.25,175.20 414.75,175.45 414.75,175.75 414.25,176.00 413.50,176.27 412.25,176.57 409.25,176.79 406.25,176.85 402.75,176.75 399.25,176.53 398.00,176.34 396.75,176.06 396.25,175.90 395.75,175.65ZM119.92,183.70 119.96,183.36 120.19,182.73 120.39,182.46 120.90,182.08 121.19,181.98 122.50,181.80 124.00,181.70 125.00,181.73 130.50,182.23 134.00,182.44 140.75,182.65 149.50,182.80 161.25,182.45 208.25,182.45 210.50,182.33 215.75,181.80 218.00,181.70 220.25,181.80 225.25,182.31 227.50,182.44 229.75,182.40 234.50,182.03 236.75,181.95 239.50,182.03 245.75,182.40 248.25,182.45 251.25,182.28 257.75,181.57 260.50,181.45 263.25,181.54 269.75,182.07 272.50,182.20 275.50,182.14 282.25,181.74 284.75,181.71 286.75,181.88 291.00,182.48 293.00,182.60 301.75,182.54 319.75,182.30 329.75,182.45 380.75,182.45 428.00,182.20 428.75,182.24 429.75,182.40 433.75,183.39 434.50,183.50 437.00,183.50 437.25,183.42 438.00,182.95 439.75,182.70 453.75,182.72 461.75,182.80 462.00,182.84 463.00,183.30 464.50,183.66 464.50,183.74 463.00,184.10 462.00,184.56 461.75,184.60 453.75,184.68 439.75,184.70 438.00,184.45 437.25,183.98 437.00,183.90 434.50,183.90 433.75,184.01 429.75,185.00 428.75,185.16 428.00,185.20 380.75,184.95 329.75,184.95 319.75,185.10 301.75,184.86 293.00,184.80 291.00,184.92 286.75,185.52 284.75,185.69 282.25,185.66 275.50,185.26 272.50,185.20 269.75,185.33 263.25,185.86 260.50,185.95 257.75,185.83 251.25,185.12 248.25,184.95 245.75,185.00 239.50,185.37 236.75,185.45 234.50,185.37 229.75,185.00 227.50,184.96 225.25,185.09 220.25,185.60 218.00,185.70 215.75,185.60 210.50,185.07 208.25,184.95 161.25,184.95 149.50,184.60 140.75,184.75 134.00,184.96 130.50,185.17 125.00,185.67 124.00,185.70 122.50,185.60 121.19,185.42 120.90,185.32 120.39,184.94 120.19,184.67 119.96,184.04 119.92,183.70ZM474.50,183.60 475.50,183.20 477.50,182.82 479.75,182.52 483.00,182.24 490.00,182.23 495.50,182.45 495.50,184.95 490.00,185.17 483.00,185.16 479.75,184.88 477.50,184.58 475.50,184.20 474.50,183.80ZM119.95,191.90 120.05,191.33 120.18,191.07 120.35,190.84 120.78,190.51 121.04,190.43 122.30,190.26 124.05,190.15 125.55,190.21 127.30,190.47 129.05,191.32 130.55,191.85 130.55,191.95 129.05,192.48 127.30,193.33 125.55,193.59 124.05,193.65 122.30,193.54 121.04,193.37 120.78,193.29 120.35,192.96 120.18,192.73 120.05,192.47 119.95,191.90ZM158.05,191.87 160.05,191.65 160.80,191.02 161.05,190.88 162.55,190.42 163.55,190.30 164.30,190.38 165.30,190.66 166.30,191.01 168.05,191.80 168.05,192.00 166.30,192.79 165.30,193.14 164.30,193.42 163.55,193.50 162.55,193.38 161.05,192.92 160.80,192.78 160.05,192.15 158.05,191.93ZM214.30,191.80 220.80,191.68 223.80,191.05 225.55,190.93 230.55,190.72 235.55,190.65 237.30,190.76 239.05,191.06 240.55,191.42 241.30,191.86 241.30,191.94 240.55,192.38 239.05,192.74 237.30,193.04 235.55,193.15 230.55,193.08 225.55,192.87 223.80,192.75 220.80,192.12 214.30,192.00ZM247.30,191.82 247.80,191.56 248.05,191.49 249.80,191.36 251.80,191.30 255.30,191.39 255.55,191.41 256.05,191.70 260.05,191.70 261.30,191.37 261.80,191.30 273.05,191.30 273.80,191.66 274.05,191.70 276.55,191.70 276.80,191.58 277.30,191.20 278.30,190.86 279.55,190.58 280.55,190.50 281.30,190.56 282.30,190.78 283.80,191.22 284.55,191.59 285.05,191.70 287.05,191.70 287.80,191.25 288.05,191.20 306.80,191.20 307.05,191.27 307.80,191.67 308.05,191.70 318.05,191.70 318.80,191.43 319.05,191.40 337.80,191.40 338.05,191.40 338.80,191.67 339.05,191.70 356.55,191.70 357.05,191.66 357.80,191.42 358.05,191.40 378.05,191.40 380.05,191.30 381.30,191.63 381.80,191.70 394.05,191.70 394.55,191.57 395.30,191.22 397.05,190.73 398.30,190.47 399.30,190.40 401.30,190.60 403.05,190.91 404.55,191.31 405.05,191.35 443.55,191.34 448.05,191.00 451.55,190.50 453.05,190.40 454.30,190.53 457.30,191.14 460.55,191.27 467.30,191.35 495.30,191.35 495.30,192.45 467.30,192.45 460.55,192.53 457.30,192.66 454.30,193.27 453.05,193.40 451.55,193.30 448.05,192.80 443.55,192.46 405.05,192.45 404.55,192.49 403.05,192.89 401.30,193.20 399.30,193.40 398.30,193.33 397.05,193.07 395.30,192.58 394.55,192.23 394.05,192.10 381.80,192.10 381.30,192.17 380.05,192.50 378.05,192.40 358.05,192.40 357.80,192.38 357.05,192.14 356.55,192.10 339.05,192.10 338.80,192.13 338.05,192.40 337.80,192.40 319.05,192.40 318.80,192.37 318.05,192.10 308.05,192.10 307.80,192.13 307.05,192.53 306.80,192.60 288.05,192.60 287.80,192.55 287.05,192.10 285.05,192.10 284.55,192.21 283.80,192.58 282.30,193.02 281.30,193.24 280.55,193.30 279.55,193.22 278.30,192.94 277.30,192.60 276.80,192.22 276.55,192.10 274.05,192.10 273.80,192.14 273.05,192.50 261.80,192.50 261.30,192.43 260.05,192.10 256.05,192.10 255.55,192.39 255.30,192.41 251.80,192.50 249.80,192.44 248.05,192.31 247.80,192.24 247.30,191.98ZM120.60,200.00 120.75,199.44 121.16,199.08 122.75,198.82 124.25,198.75 125.50,198.81 127.00,199.00 127.25,199.09 128.25,199.80 128.50,199.89 131.00,199.90 131.25,199.95 131.25,200.05 131.00,200.10 128.50,200.11 128.25,200.20 127.25,200.91 127.00,201.00 125.50,201.19 124.25,201.25 122.75,201.18 121.16,200.92 120.75,200.56 120.60,200.00ZM139.75,199.97 140.25,199.79 141.25,198.96 141.75,198.75 147.75,198.56 155.25,198.50 178.25,198.51 179.75,198.73 183.00,199.50 185.00,199.79 186.50,199.90 195.50,199.90 195.75,199.82 196.50,199.19 196.75,199.10 200.00,198.95 204.00,198.90 208.25,198.95 211.75,199.10 212.00,199.19 212.75,199.82 213.00,199.90 225.50,199.90 225.75,199.82 226.50,199.14 226.75,199.00 228.25,198.66 229.50,198.51 257.25,198.50 257.50,198.54 257.75,198.87 258.25,199.78 258.50,199.93 258.50,200.07 258.25,200.22 257.75,201.13 257.50,201.46 257.25,201.50 229.50,201.49 228.25,201.34 226.75,201.00 226.50,200.86 225.75,200.18 225.50,200.10 213.00,200.10 212.75,200.18 212.00,200.81 211.75,200.90 208.25,201.05 204.00,201.10 200.00,201.05 196.75,200.90 196.50,200.81 195.75,200.18 195.50,200.10 186.50,200.10 185.00,200.21 183.00,200.50 179.75,201.27 178.25,201.49 155.25,201.50 147.75,201.44 141.75,201.25 141.25,201.04 140.25,200.21 139.75,200.03ZM262.25,199.95 264.75,198.24 265.25,198.03 265.50,198.00 275.00,198.03 284.75,198.48 295.00,198.73 320.25,198.75 321.50,198.89 323.00,199.25 323.25,199.41 323.75,199.90 323.75,200.10 323.25,200.59 323.00,200.75 321.50,201.11 320.25,201.25 295.00,201.27 284.75,201.52 275.00,201.97 265.50,202.00 265.25,201.97 264.75,201.76 262.25,200.05ZM330.25,199.77 330.75,199.16 331.00,199.00 334.00,198.64 337.25,198.50 346.25,198.50 348.50,198.63 350.75,199.00 351.75,199.25 352.25,199.75 352.50,199.90 356.00,199.90 356.25,199.84 356.50,199.68 357.25,199.07 358.50,198.61 360.25,198.15 361.75,198.00 365.00,198.16 366.75,198.33 368.00,198.52 370.00,199.00 370.50,199.25 371.25,199.75 371.75,199.90 376.00,199.90 376.25,199.72 376.75,199.10 377.25,198.92 380.00,198.39 381.75,198.25 383.25,198.31 385.75,198.52 388.75,198.89 390.25,199.00 415.50,199.00 416.25,199.17 417.75,199.85 418.50,199.97 418.50,200.03 417.75,200.15 416.25,200.83 415.50,201.00 390.25,201.00 388.75,201.11 385.75,201.48 383.25,201.69 381.75,201.75 380.00,201.61 377.25,201.08 376.75,200.90 376.25,200.28 376.00,200.10 371.75,200.10 371.25,200.25 370.50,200.75 370.00,201.00 368.00,201.48 366.75,201.67 365.00,201.84 361.75,202.00 360.25,201.85 358.50,201.39 357.25,200.93 356.50,200.32 356.25,200.16 356.00,200.10 352.50,200.10 352.25,200.25 351.75,200.75 350.75,201.00 348.50,201.37 346.25,201.50 337.25,201.50 334.00,201.36 331.00,201.00 330.75,200.84 330.25,200.23ZM423.75,199.94 424.50,199.00 425.75,198.43 426.25,198.30 426.75,198.25 436.00,198.28 438.75,198.42 444.25,198.84 445.50,199.00 445.75,199.17 446.25,199.77 446.50,199.90 450.50,199.90 450.75,199.78 451.50,198.87 451.75,198.75 495.50,198.75 495.50,201.25 451.75,201.25 451.50,201.13 450.75,200.22 450.50,200.10 446.50,200.10 446.25,200.23 445.75,200.83 445.50,201.00 444.25,201.16 438.75,201.58 436.00,201.72 426.75,201.75 426.25,201.70 425.75,201.57 424.50,201.00 423.75,200.06ZM119.68,220.40 119.72,219.95 119.84,219.52 120.03,219.12 120.29,218.77 120.60,218.49 120.96,218.28 121.35,218.14 122.75,217.99 125.50,217.85 130.50,218.10 139.00,218.32 159.75,218.35 163.25,218.46 166.00,218.65 168.25,218.89 169.00,219.15 170.50,219.93 171.25,220.22 171.75,220.30 173.50,220.37 173.50,220.43 171.75,220.50 171.25,220.58 170.50,220.87 169.00,221.65 168.25,221.91 166.00,222.15 163.25,222.34 159.75,222.45 139.00,222.48 130.50,222.70 125.50,222.95 122.75,222.81 121.35,222.66 120.96,222.52 120.60,222.31 120.29,222.03 120.03,221.68 119.84,221.28 119.72,220.85 119.68,220.40ZM182.25,220.36 184.25,220.13 185.75,219.82 186.25,219.50 187.25,218.68 187.75,218.41 188.00,218.35 193.50,218.00 200.00,217.86 221.25,217.86 224.00,217.95 230.00,218.28 232.75,218.35 266.75,218.10 272.00,218.33 274.00,218.35 292.75,218.10 297.50,218.19 308.25,218.54 312.75,218.60 325.25,218.58 336.00,218.18 340.00,218.10 342.00,218.15 346.25,218.53 348.00,218.60 356.25,218.35 383.25,218.43 393.50,218.34 403.00,218.10 405.75,218.16 412.00,218.50 414.75,218.59 418.00,218.57 427.25,218.35 455.75,218.35 458.75,218.43 465.25,218.79 468.00,218.85 471.00,218.78 479.50,218.36 495.50,218.35 495.50,222.45 479.50,222.44 471.00,222.02 468.00,221.95 465.25,222.01 458.75,222.37 455.75,222.45 427.25,222.45 418.00,222.23 414.75,222.21 412.00,222.30 405.75,222.64 403.00,222.70 393.50,222.46 383.25,222.37 356.25,222.45 348.00,222.20 346.25,222.27 342.00,222.65 340.00,222.70 336.00,222.62 325.25,222.22 312.75,222.20 308.25,222.26 297.50,222.61 292.75,222.70 274.00,222.45 272.00,222.47 266.75,222.70 232.75,222.45 230.00,222.52 224.00,222.85 221.25,222.94 200.00,222.94 193.50,222.80 188.00,222.45 187.75,222.39 187.25,222.12 186.25,221.30 185.75,220.98 184.25,220.67 182.25,220.44ZM119.91,228.30 120.01,227.71 120.31,227.20 120.77,226.87 121.03,226.78 127.30,226.54 137.30,226.50 143.80,226.73 146.05,226.75 149.05,226.67 156.80,226.29 160.80,226.26 168.30,226.52 172.80,227.07 174.55,227.15 180.05,226.93 183.55,226.71 187.55,226.32 189.30,226.25 199.05,226.85 204.55,227.10 207.55,227.15 219.30,227.15 221.80,226.97 227.55,225.99 229.05,225.81 230.30,225.75 261.05,225.75 273.05,226.00 299.05,226.00 312.30,225.75 338.30,225.75 339.55,225.82 341.05,226.00 346.80,226.98 348.05,227.11 349.30,227.15 353.05,227.01 360.05,226.42 362.80,226.26 373.30,225.97 386.30,225.81 397.80,225.77 400.05,225.96 405.30,226.60 408.05,226.75 411.05,226.66 417.80,226.15 420.80,226.01 443.30,226.00 449.05,225.75 455.55,226.00 456.80,225.94 460.05,225.59 461.55,225.50 478.55,225.74 495.30,225.75 495.30,230.85 478.55,230.86 461.55,231.10 460.05,231.01 456.80,230.66 455.55,230.60 449.05,230.85 443.30,230.60 420.80,230.59 417.80,230.45 411.05,229.94 408.05,229.85 405.30,230.00 400.05,230.64 397.80,230.83 386.30,230.79 373.30,230.63 362.80,230.34 360.05,230.18 353.05,229.59 349.30,229.45 348.05,229.49 346.80,229.62 341.05,230.60 339.55,230.78 338.30,230.85 312.30,230.85 299.05,230.60 273.05,230.60 261.05,230.85 230.30,230.85 229.05,230.79 227.55,230.61 221.80,229.63 219.30,229.45 207.55,229.45 204.55,229.50 199.05,229.75 189.30,230.35 187.55,230.28 183.55,229.89 180.05,229.67 174.55,229.45 172.80,229.53 168.30,230.08 160.80,230.34 156.80,230.31 149.05,229.93 146.05,229.85 143.80,229.87 137.30,230.10 127.30,230.06 121.03,229.82 120.77,229.73 120.31,229.40 120.01,228.89 119.91,228.30ZM119.66,236.40 119.80,235.62 120.20,234.95 120.79,234.51 121.50,234.35 131.00,234.35 135.75,234.58 137.75,234.59 141.00,234.45 148.25,233.95 151.75,233.85 153.50,233.90 155.25,234.04 157.25,234.28 159.50,234.65 160.50,234.95 161.75,235.52 162.25,235.84 162.75,236.31 162.75,236.49 162.25,236.96 161.75,237.28 160.50,237.85 159.50,238.15 157.25,238.52 155.25,238.76 153.50,238.90 151.75,238.95 148.25,238.85 141.00,238.35 137.75,238.21 135.75,238.22 131.00,238.45 121.50,238.45 120.79,238.29 120.20,237.85 119.80,237.18 119.66,236.40ZM170.75,236.35 171.50,235.97 171.75,235.90 178.25,235.63 179.25,235.49 181.75,235.01 183.00,234.85 200.25,234.11 205.50,234.15 218.00,234.58 228.25,234.61 229.25,234.89 232.25,236.15 233.00,236.30 233.75,236.15 237.00,234.81 237.50,234.66 238.00,234.60 260.50,234.35 275.75,234.58 280.75,234.59 285.50,234.51 296.50,234.17 301.75,234.10 305.50,234.19 316.25,234.77 318.75,234.85 323.25,234.79 333.00,234.44 337.25,234.35 347.25,234.41 356.75,234.60 358.75,234.78 363.75,235.62 366.50,235.93 368.00,236.00 375.00,235.31 377.75,234.86 383.50,234.86 385.75,234.99 388.25,235.29 389.00,235.52 390.50,236.14 391.25,236.35 391.25,236.45 390.50,236.66 389.00,237.28 388.25,237.51 385.75,237.81 383.50,237.94 377.75,237.94 375.00,237.49 368.00,236.80 366.50,236.87 363.75,237.18 358.75,238.02 356.75,238.20 347.25,238.39 337.25,238.45 333.00,238.36 323.25,238.01 318.75,237.95 316.25,238.03 305.50,238.61 301.75,238.70 296.50,238.63 285.50,238.29 280.75,238.21 275.75,238.22 260.50,238.45 238.00,238.20 237.50,238.14 237.00,237.99 233.75,236.65 233.00,236.50 232.25,236.65 229.25,237.91 228.25,238.19 218.00,238.22 205.50,238.65 200.25,238.69 183.00,237.95 181.75,237.79 179.50,237.35 178.25,237.17 171.75,236.90 171.50,236.83 170.75,236.45ZM393.75,236.29 394.25,235.79 394.50,235.65 397.00,235.33 399.50,235.25 402.25,235.37 405.00,235.65 405.50,235.78 406.75,236.26 408.00,236.37 408.00,236.43 406.75,236.54 405.50,237.02 405.00,237.15 402.25,237.43 399.50,237.55 397.00,237.47 394.50,237.15 394.25,237.01 393.75,236.51ZM422.00,236.36 424.75,235.01 425.50,234.85 468.25,234.85 470.50,235.08 474.00,235.74 477.25,236.26 483.00,236.30 483.75,236.22 485.75,235.70 490.75,234.77 492.50,234.61 495.50,234.60 495.50,238.20 492.50,238.19 490.75,238.03 485.75,237.10 483.75,236.58 483.00,236.50 477.25,236.54 474.00,237.06 470.50,237.72 468.25,237.95 425.50,237.95 424.75,237.79 422.00,236.44ZM120.27,244.60 120.34,244.16 120.57,243.79 120.90,243.54 121.30,243.45 128.55,243.46 133.05,243.81 135.05,243.84 138.30,243.71 145.80,243.16 148.80,243.05 162.30,243.05 168.55,243.40 170.80,243.45 174.05,243.36 181.80,242.93 188.05,242.81 248.30,242.80 260.55,242.55 296.80,243.05 314.05,243.04 322.55,242.62 325.05,242.55 344.30,242.80 360.55,242.55 391.05,242.97 403.05,243.05 406.05,242.94 412.80,242.39 415.55,242.30 419.05,242.38 427.80,242.80 443.05,243.05 444.30,243.19 445.55,243.46 446.80,244.11 447.80,244.48 454.30,244.50 454.80,244.39 456.05,243.83 458.55,242.92 460.55,242.43 461.55,242.30 495.30,242.30 495.30,246.90 461.55,246.90 460.55,246.77 458.55,246.28 456.05,245.37 454.80,244.81 454.30,244.70 447.80,244.72 446.80,245.09 445.55,245.74 444.30,246.01 443.05,246.15 427.80,246.40 419.05,246.82 415.55,246.90 412.80,246.81 406.05,246.26 403.05,246.15 391.05,246.23 360.55,246.65 344.30,246.40 325.05,246.65 322.55,246.58 314.05,246.16 296.80,246.15 260.55,246.65 248.30,246.40 188.05,246.39 181.80,246.27 174.05,245.84 170.80,245.75 168.55,245.80 162.30,246.15 148.80,246.15 145.80,246.04 138.30,245.49 135.05,245.36 133.05,245.39 128.55,245.74 121.30,245.75 120.90,245.66 120.57,245.41 120.34,245.04 120.27,244.60ZM120.27,252.60 120.34,252.16 120.57,251.79 120.90,251.54 121.30,251.45 147.55,251.41 162.55,251.03 172.80,250.64 177.55,250.55 183.55,250.57 186.05,250.87 189.05,251.35 190.55,251.45 194.55,251.40 207.05,251.05 251.55,251.04 273.30,250.80 284.55,250.55 325.55,250.55 326.05,250.59 326.80,250.77 329.55,251.73 330.55,251.85 331.55,251.75 334.05,251.18 335.05,251.05 341.55,250.68 347.30,250.55 378.05,250.55 380.05,250.40 444.30,250.40 468.30,250.30 471.55,250.38 480.05,250.79 495.30,251.05 495.30,254.15 480.05,254.41 471.55,254.82 468.30,254.90 444.30,254.80 380.05,254.80 378.05,254.65 347.30,254.65 341.55,254.52 335.05,254.15 334.05,254.02 331.55,253.45 330.55,253.35 329.55,253.47 326.80,254.43 326.05,254.61 325.55,254.65 284.55,254.65 273.30,254.40 251.55,254.16 207.05,254.15 194.55,253.80 190.55,253.75 189.05,253.85 186.05,254.33 183.55,254.63 177.55,254.65 172.80,254.56 162.55,254.17 147.55,253.79 121.30,253.75 120.90,253.66 120.57,253.41 120.34,253.04 120.27,252.60Z"/>
<g stroke="#000" stroke-width="2" fill="none">
<line x1="115.4" y1="270.5" x2="497" y2="270.5"/>
<line x1="121.5" y1="270.5" x2="121.5" y2="276"/>
<line x1="215.5" y1="270.5" x2="215.5" y2="276"/>
<line x1="309.5" y1="270.5" x2="309.5" y2="276"/>
<line x1="403.5" y1="270.5" x2="403.5" y2="276"/>
</g>
<text x="121.5" y="296.7" font-size="16.5" text-anchor="middle" fill="#111">0</text>
<text x="215.5" y="296.7" font-size="16.5" text-anchor="middle" fill="#111">10</text>
<text x="309.5" y="296.7" font-size="16.5" text-anchor="middle" fill="#111">20</text>
<text x="403.5" y="296.7" font-size="16.5" text-anchor="middle" fill="#111">30</text>
<text x="497.0" y="296.7" font-size="16.5" text-anchor="middle" fill="#111">40</text>
<text x="306" y="323" font-size="19" text-anchor="middle" fill="#111" textLength="102" lengthAdjust="spacingAndGlyphs">Time (minutes)</text>
<g stroke="#000" stroke-width="2" fill="none">
<line x1="112.1" y1="385.8" x2="112.1" y2="589.6"/>
<line x1="111.1" y1="588.8" x2="251.7" y2="588.8"/>
<line x1="105.8" y1="392.2" x2="112" y2="392.2"/>
<line x1="105.8" y1="457.7" x2="112" y2="457.7"/>
<line x1="105.8" y1="523.1" x2="112" y2="523.1"/>
<line x1="105.8" y1="588.6" x2="112" y2="588.6"/>
<line x1="139.9" y1="588.8" x2="139.9" y2="594.8"/>
<line x1="181.0" y1="588.8" x2="181.0" y2="594.8"/>
<line x1="222.4" y1="588.8" x2="222.4" y2="594.8"/>
</g>
<text x="99.5" y="397.1" font-size="16" text-anchor="end" fill="#111">15</text>
<text x="99.5" y="462.5" font-size="16" text-anchor="end" fill="#111">10</text>
<text x="99.5" y="527.9" font-size="16" text-anchor="end" fill="#111">5</text>
<text x="99.5" y="593.4" font-size="16" text-anchor="end" fill="#111">0</text>
<circle cx="139.9" cy="510.1" r="2.9" fill="#7f79b9"/><circle cx="134.9" cy="523.1" r="2.9" fill="#7f79b9"/><circle cx="144.5" cy="523.1" r="2.9" fill="#7f79b9"/><circle cx="139.9" cy="536.2" r="2.9" fill="#7f79b9"/><circle cx="139.9" cy="549.3" r="2.9" fill="#7f79b9"/><circle cx="130.9" cy="562.4" r="2.9" fill="#7f79b9"/><circle cx="139.9" cy="562.4" r="2.9" fill="#7f79b9"/><circle cx="149.0" cy="562.4" r="2.9" fill="#7f79b9"/><circle cx="139.9" cy="575.5" r="2.9" fill="#7f79b9"/><circle cx="139.9" cy="588.6" r="2.9" fill="#7f79b9"/><circle cx="181.0" cy="431.5" r="2.9" fill="#3d9a48"/><circle cx="181.0" cy="444.6" r="2.9" fill="#3d9a48"/><circle cx="174.2" cy="470.8" r="2.9" fill="#3d9a48"/><circle cx="188.2" cy="470.8" r="2.9" fill="#3d9a48"/><circle cx="181.0" cy="483.9" r="2.9" fill="#3d9a48"/><circle cx="181.0" cy="497.0" r="2.9" fill="#3d9a48"/><circle cx="181.0" cy="523.1" r="2.9" fill="#3d9a48"/><circle cx="181.0" cy="536.2" r="2.9" fill="#3d9a48"/><circle cx="181.0" cy="549.3" r="2.9" fill="#3d9a48"/><circle cx="181.0" cy="562.4" r="2.9" fill="#3d9a48"/><circle cx="222.4" cy="523.1" r="2.9" fill="#1e988e"/><circle cx="215.7" cy="562.4" r="2.9" fill="#1e988e"/><circle cx="229.4" cy="562.4" r="2.9" fill="#1e988e"/><circle cx="222.4" cy="575.5" r="2.9" fill="#1e988e"/><circle cx="222.4" cy="588.6" r="2.9" fill="#1e988e"/>
<g stroke="#000" stroke-width="2.2" fill="none"><line x1="125.1" y1="549.3" x2="154.7" y2="549.3"/><line x1="132.7" y1="541.1" x2="147.1" y2="541.1"/><line x1="132.7" y1="557.6" x2="147.1" y2="557.6"/><line x1="139.9" y1="541.1" x2="139.9" y2="557.6"/></g>
<g stroke="#000" stroke-width="2.2" fill="none"><line x1="166.2" y1="496.6" x2="195.8" y2="496.6"/><line x1="173.8" y1="482.4" x2="188.2" y2="482.4"/><line x1="173.8" y1="510.4" x2="188.2" y2="510.4"/><line x1="181.0" y1="482.4" x2="181.0" y2="510.4"/></g>
<g stroke="#000" stroke-width="2.2" fill="none"><line x1="207.6" y1="562.5" x2="237.2" y2="562.5"/><line x1="215.2" y1="551.9" x2="229.6" y2="551.9"/><line x1="215.2" y1="573.2" x2="229.6" y2="573.2"/><line x1="222.4" y1="551.9" x2="222.4" y2="573.2"/></g>
<g stroke="#000" stroke-width="1.6"><line x1="140.1" y1="395.2" x2="225" y2="395.2"/><line x1="140.1" y1="418.8" x2="181.1" y2="418.8"/><line x1="184.1" y1="412.1" x2="225" y2="412.1"/></g>
<text x="182.7" y="392.3" font-size="13.6" text-anchor="middle" fill="#111">ns</text>
<g fill="#111"><polygon points="160.70,411.35 161.44,413.48 163.70,413.53 161.90,414.89 162.55,417.05 160.70,415.76 158.85,417.05 159.50,414.89 157.70,413.53 159.96,413.48"/><polygon points="201.20,404.45 201.94,406.58 204.20,406.63 202.40,407.99 203.05,410.15 201.20,408.86 199.35,410.15 200.00,407.99 198.20,406.63 200.46,406.58"/><polygon points="207.90,404.45 208.64,406.58 210.90,406.63 209.10,407.99 209.75,410.15 207.90,408.86 206.05,410.15 206.70,407.99 204.90,406.63 207.16,406.58"/></g>
<text transform="translate(47.3,487.7) rotate(-90)" font-size="19.5" text-anchor="middle" fill="#111" textLength="159" lengthAdjust="spacingAndGlyphs">Occurences of bleeding</text>
<text transform="translate(70.9,487) rotate(-90)" font-size="19.5" text-anchor="middle" fill="#111" textLength="136" lengthAdjust="spacingAndGlyphs">cessation (rebleeds)</text>
<text transform="translate(146.9,607.0) rotate(-45)" font-size="16" text-anchor="end" fill="#111">Unt</text>
<text transform="translate(189.2,607.2) rotate(-45)" font-size="16" text-anchor="end" fill="#111" textLength="51.5" lengthAdjust="spacingAndGlyphs">siFXIIIB</text>
<text transform="translate(228.4,606.0) rotate(-45)" font-size="16" text-anchor="end" fill="#111">Apixa</text>
<g stroke="#000" stroke-width="2" fill="none">
<line x1="361.8" y1="389.9" x2="361.8" y2="589.7"/>
<line x1="360.8" y1="588.8" x2="504.8" y2="588.8"/>
<line x1="355.2" y1="396.0" x2="361.7" y2="396.0"/>
<line x1="355.2" y1="434.6" x2="361.7" y2="434.6"/>
<line x1="355.2" y1="473.2" x2="361.7" y2="473.2"/>
<line x1="355.2" y1="511.8" x2="361.7" y2="511.8"/>
<line x1="355.2" y1="550.4" x2="361.7" y2="550.4"/>
<line x1="355.2" y1="589.0" x2="361.7" y2="589.0"/>
<line x1="390.1" y1="588.8" x2="390.1" y2="594.8"/>
<line x1="432.8" y1="588.8" x2="432.8" y2="594.8"/>
<line x1="475.3" y1="588.8" x2="475.3" y2="594.8"/>
</g>
<text x="349" y="400.8" font-size="16" text-anchor="end" fill="#111">50</text>
<text x="349" y="439.4" font-size="16" text-anchor="end" fill="#111">40</text>
<text x="349" y="478.0" font-size="16" text-anchor="end" fill="#111">30</text>
<text x="349" y="516.6" font-size="16" text-anchor="end" fill="#111">20</text>
<text x="349" y="555.2" font-size="16" text-anchor="end" fill="#111">10</text>
<text x="349" y="593.8" font-size="16" text-anchor="end" fill="#111">0</text>
<circle cx="383.0" cy="452.3" r="2.9" fill="#7f79b9"/><circle cx="397.4" cy="457.3" r="2.9" fill="#7f79b9"/><circle cx="390.2" cy="478.0" r="2.9" fill="#7f79b9"/><circle cx="390.1" cy="509.6" r="2.9" fill="#7f79b9"/><circle cx="390.1" cy="518.5" r="2.9" fill="#7f79b9"/><circle cx="390.1" cy="531.4" r="2.9" fill="#7f79b9"/><circle cx="382.8" cy="558.9" r="2.9" fill="#7f79b9"/><circle cx="397.3" cy="563.0" r="2.9" fill="#7f79b9"/><circle cx="382.8" cy="568.6" r="2.9" fill="#7f79b9"/><circle cx="397.3" cy="573.2" r="2.9" fill="#7f79b9"/><circle cx="432.8" cy="435.3" r="2.9" fill="#3d9a48"/><circle cx="432.8" cy="477.2" r="2.9" fill="#3d9a48"/><circle cx="432.8" cy="486.5" r="2.9" fill="#3d9a48"/><circle cx="432.8" cy="496.7" r="2.9" fill="#3d9a48"/><circle cx="440.1" cy="514.4" r="2.9" fill="#3d9a48"/><circle cx="425.6" cy="521.7" r="2.9" fill="#3d9a48"/><circle cx="432.8" cy="552.4" r="2.9" fill="#3d9a48"/><circle cx="432.8" cy="567.4" r="2.9" fill="#3d9a48"/><circle cx="425.6" cy="572.4" r="2.9" fill="#3d9a48"/><circle cx="440.1" cy="579.5" r="2.9" fill="#3d9a48"/><circle cx="475.3" cy="418.1" r="2.9" fill="#1e988e"/><circle cx="475.3" cy="429.0" r="2.9" fill="#1e988e"/><circle cx="468.1" cy="442.2" r="2.9" fill="#1e988e"/><circle cx="482.6" cy="445.3" r="2.9" fill="#1e988e"/><circle cx="475.3" cy="492.5" r="2.9" fill="#1e988e"/>
<g stroke="#000" stroke-width="2.2" fill="none"><line x1="375.3" y1="521.0" x2="404.9" y2="521.0"/><line x1="382.9" y1="507.0" x2="397.3" y2="507.0"/><line x1="382.9" y1="535.5" x2="397.3" y2="535.5"/><line x1="390.1" y1="507.0" x2="390.1" y2="535.5"/></g>
<g stroke="#000" stroke-width="2.2" fill="none"><line x1="418.0" y1="520.2" x2="447.6" y2="520.2"/><line x1="425.6" y1="505.3" x2="440.0" y2="505.3"/><line x1="425.6" y1="535.5" x2="440.0" y2="535.5"/><line x1="432.8" y1="505.3" x2="432.8" y2="535.5"/></g>
<g stroke="#000" stroke-width="2.2" fill="none"><line x1="460.5" y1="445.3" x2="490.1" y2="445.3"/><line x1="468.1" y1="432.6" x2="482.5" y2="432.6"/><line x1="468.1" y1="458.0" x2="482.5" y2="458.0"/><line x1="475.3" y1="432.6" x2="475.3" y2="458.0"/></g>
<g stroke="#000" stroke-width="1.6"><line x1="390" y1="393.9" x2="475.3" y2="393.9"/><line x1="390" y1="421.5" x2="431.5" y2="421.5"/><line x1="434.4" y1="411" x2="475.3" y2="411"/></g>
<text x="410.9" y="418.9" font-size="13.6" text-anchor="middle" fill="#111">ns</text>
<g fill="#111"><polygon points="429.40,386.25 430.14,388.38 432.40,388.43 430.60,389.79 431.25,391.95 429.40,390.66 427.55,391.95 428.20,389.79 426.40,388.43 428.66,388.38"/><polygon points="436.30,386.25 437.04,388.38 439.30,388.43 437.50,389.79 438.15,391.95 436.30,390.66 434.45,391.95 435.10,389.79 433.30,388.43 435.56,388.38"/><polygon points="451.60,403.15 452.34,405.28 454.60,405.33 452.80,406.69 453.45,408.85 451.60,407.56 449.75,408.85 450.40,406.69 448.60,405.33 450.86,405.28"/><polygon points="458.30,403.15 459.04,405.28 461.30,405.33 459.50,406.69 460.15,408.85 458.30,407.56 456.45,408.85 457.10,406.69 455.30,405.33 457.56,405.28"/></g>
<text transform="translate(296.8,489.5) rotate(-90)" font-size="19.5" text-anchor="middle" fill="#111" textLength="103" lengthAdjust="spacingAndGlyphs">Total blood lost</text>
<text transform="translate(320.2,489.3) rotate(-90)" font-size="19.5" text-anchor="middle" fill="#111" textLength="133.5" lengthAdjust="spacingAndGlyphs">(mL/g body weight)</text>
<text transform="translate(397.1,607.0) rotate(-45)" font-size="16" text-anchor="end" fill="#111">Unt</text>
<text transform="translate(441.0,607.2) rotate(-45)" font-size="16" text-anchor="end" fill="#111" textLength="51.5" lengthAdjust="spacingAndGlyphs">siFXIIIB</text>
<text transform="translate(481.3,606.0) rotate(-45)" font-size="16" text-anchor="end" fill="#111">Apixa</text>
</svg></body></html>
